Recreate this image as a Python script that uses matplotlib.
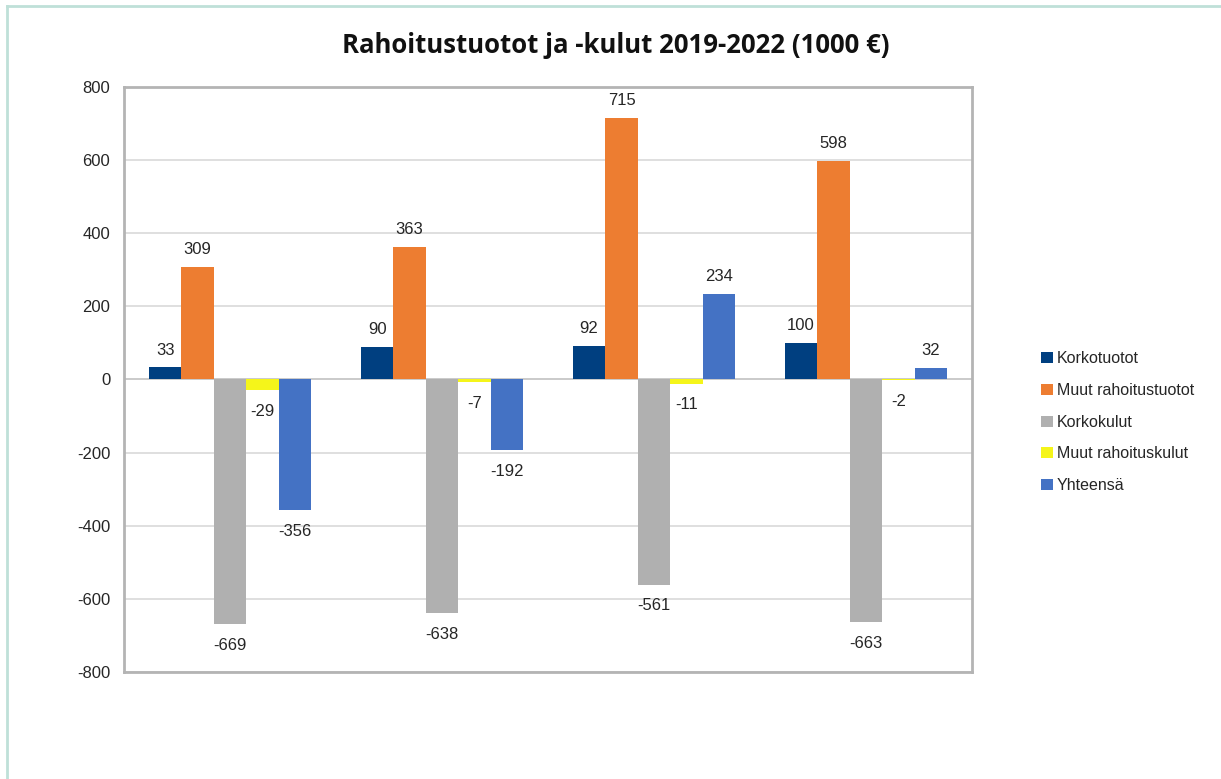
import matplotlib.pyplot as plt
import numpy as np
from matplotlib.lines import Line2D

# Datos
vuodet = ['2019', '2020', '2021', '2022']
sarjat = ['Korkotuotot', 'Muut rahoitustuotot', 'Korkokulut', 'Muut rahoituskulut', 'Yhteensä']
korkotuotot = [33, 90, 92, 100]
muut_tuotot = [309, 363, 715, 598]
korkokulut = [-669, -638, -561, -663]
muut_kulut = [-29, -7, -11, -2]
yhteensa = [-356, -192, 234, 32]
arvot = [korkotuotot, muut_tuotot, korkokulut, muut_kulut, yhteensa]
varit = ['#003f80', '#ed7d31', '#b0b0b0', '#f5f51a', '#4472c4']

plt.rcParams['font.family'] = ['Liberation Sans', 'DejaVu Sans']
plt.rcParams['axes.unicode_minus'] = False

fig = plt.figure(figsize=(12.21, 7.79), dpi=100)
ax = fig.add_axes([0.1016, 0.1374, 0.6944, 0.7509])

x = np.arange(len(vuodet))
leveys = 0.153

for i, (nimi, data, vari) in enumerate(zip(sarjat, arvot, varit)):
    pos = x + (i - 2) * leveys
    ax.bar(pos, data, leveys, color=vari, label=nimi, zorder=3)
    for p, v in zip(pos, data):
        if v >= 0:
            ax.annotate(str(v), (p, v), xytext=(0, 7), textcoords='offset points',
                        ha='center', va='bottom', fontsize=12, color='#262626')
        else:
            ax.annotate(str(v), (p, v), xytext=(0, -10), textcoords='offset points',
                        ha='center', va='top', fontsize=12, color='#262626')

ax.set_xlim(-0.5, 3.5)
ax.set_ylim(-800, 800)
ax.set_yticks(np.arange(-800, 801, 200))
ax.set_xticks([])
ax.tick_params(axis='y', length=0, labelsize=12, labelcolor='#262626', pad=10)
ax.grid(axis='y', color='#d9d9d9', linewidth=1.2, zorder=0)
ax.axhline(0, color='#c8c8c8', linewidth=1.2, zorder=2)
for s in ax.spines.values():
    s.set_color('#b4b4b4')
    s.set_linewidth(2)

# Otsikko (keskitetty kuvaan, ei akseleihin)
fig.text(0.5045, 0.942, 'Rahoitustuotot ja -kulut 2019-2022 (1000 €)', fontsize=18.5,
         fontweight='bold', family=['Open Sans', 'DejaVu Sans'], color='#111111',
         ha='center', va='center')

ax.legend(loc='center left', bbox_to_anchor=(1.065, 0.427), frameon=False, fontsize=11.5,
          handlelength=0.7, handleheight=0.7, handletextpad=0.25, labelspacing=1.05,
          labelcolor='#262626')

# Kehys
fig.add_artist(Line2D([0.0057, 1.0], [0.9923, 0.9923], color='#bfe0d8', linewidth=2))
fig.add_artist(Line2D([0.0057, 0.0057], [0.0, 0.9923], color='#bfe0d8', linewidth=2))

fig.savefig('out.png', dpi=100, facecolor='white')
